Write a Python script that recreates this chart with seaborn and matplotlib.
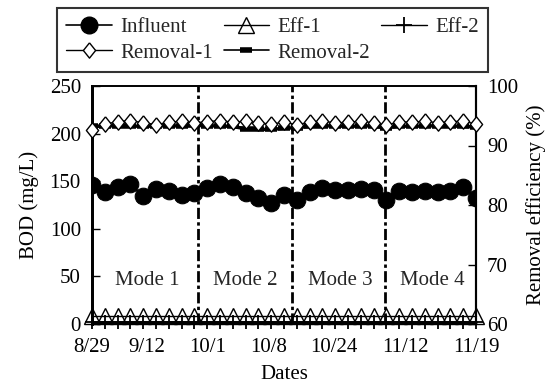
import matplotlib
matplotlib.use("Agg")
import matplotlib.pyplot as plt
import pandas as pd
import seaborn as sns

sns.set_theme(style="white")
plt.rcParams['font.family'] = ['Liberation Serif', 'DejaVu Serif']

# ---------------- data ----------------
sample_idx = list(range(31))
influent = [146, 139, 144, 147, 134, 142, 140, 135, 138, 143, 147, 144, 138, 132, 127, 135,
            130, 139, 143, 141, 141, 142, 141, 130, 140, 139, 140, 139, 140, 144, 132]
eff1 = [8, 8, 8, 8, 8, 8, 8, 8, 8, 8, 8, 8, 8, 8, 8, 8,
        8, 8, 8, 8, 8, 8, 8, 8, 8, 8, 8, 8, 8, 8, 8]
eff2 = [2, 2, 2, 2, 2, 2, 2, 2, 2, 2, 2, 2, 2, 2, 2, 2,
        2, 2, 2, 2, 2, 2, 2, 2, 2, 2, 2, 2, 2, 2, 2]
removal1 = [92.6, 93.6, 94.0, 94.2, 93.8, 93.5, 93.9, 94.1, 93.8, 94.0, 94.2, 93.9, 94.1, 93.8, 93.6, 93.9,
            93.5, 93.9, 94.1, 93.8, 93.9, 94.1, 93.8, 93.4, 94.0, 93.9, 94.1, 93.8, 94.0, 94.1, 93.6]
removal2 = [93.2, 93.3, 93.3, 93.3, 93.2, 93.3, 93.3, 93.3, 93.4, 93.3, 93.3, 93.2, 92.8, 92.7, 92.7, 92.9,
            93.0, 93.2, 93.3, 93.3, 93.2, 93.3, 93.3, 92.9, 93.3, 93.2, 93.3, 93.3, 93.3, 93.2, 93.1]

date_tick_pos = [0, 4.3, 9.0, 13.8, 18.9, 24.5, 30]
date_tick_labels = ['8/29', '9/12', '10/1', '10/8', '10/24', '11/12', '11/19']
mode_bounds = [8.3, 15.6, 22.9]
mode_labels = ['Mode 1', 'Mode 2', 'Mode 3', 'Mode 4']
mode_label_x = [4.3, 12.0, 19.4, 26.6]
mode_label_y = 46

df = pd.DataFrame({'idx': sample_idx, 'Influent': influent, 'Eff-1': eff1, 'Eff-2': eff2,
                   'Removal-1': removal1, 'Removal-2': removal2})

# ---------------- figure ----------------
fig = plt.figure(figsize=(5.47, 3.84), dpi=100)
ax = fig.add_axes([92 / 547, 60 / 384, 384 / 547, 238 / 384])
ax2 = ax.twinx()

FS = 15
diamond = [(0, 1), (0.8, 0), (0, -1), (-0.8, 0), (0, 1)]

sns.lineplot(data=df, x='idx', y='Influent', ax=ax, color='black', lw=1.2, marker='o',
             markersize=12, markeredgecolor='black', markerfacecolor='black', legend=False, zorder=3)
sns.lineplot(data=df, x='idx', y='Eff-1', ax=ax, color='black', lw=1.0, marker='^',
             markersize=11.5, markeredgecolor='black', markerfacecolor='none', markeredgewidth=1.0,
             legend=False, zorder=3, clip_on=False)
sns.lineplot(data=df, x='idx', y='Eff-2', ax=ax, color='black', lw=2.0, marker='+',
             markersize=10, markeredgecolor='black', markeredgewidth=1.3, legend=False, zorder=3,
             clip_on=False)

sns.lineplot(data=df, x='idx', y='Removal-2', ax=ax2, color='black', lw=2.5, marker='_',
             markersize=9, markeredgecolor='black', markeredgewidth=4, legend=False, zorder=3)
sns.lineplot(data=df, x='idx', y='Removal-1', ax=ax2, color='black', lw=1.0, marker=diamond,
             markersize=11, markeredgecolor='black', markerfacecolor='white', markeredgewidth=1.0,
             legend=False, zorder=4, clip_on=False)

for xb in mode_bounds:
    ax.axvline(xb, color='black', lw=2.0, linestyle=(0, (4, 1.2, 1.2, 1.2)), zorder=2)
for lx, lab in zip(mode_label_x, mode_labels):
    ax.text(lx, mode_label_y, lab, ha='center', va='center', fontsize=FS)

ax.set_xlim(0, 30)
ax.set_ylim(0, 250)
ax.set_yticks([0, 50, 100, 150, 200, 250])
ax2.set_ylim(60, 100)
ax2.set_yticks([60, 70, 80, 90, 100])

ax.set_xticks(date_tick_pos)
ax.set_xticklabels(date_tick_labels)
ax.tick_params(axis='x', length=0, pad=10, labelsize=FS, colors='black')
ax.tick_params(axis='y', direction='in', length=6, width=1.0, left=True, pad=8, labelsize=FS,
               colors='black')
ax2.tick_params(axis='y', direction='in', length=6, width=1.0, right=True, pad=8, labelsize=FS,
                colors='black')

ax.set_xlabel('Dates', fontsize=FS, color='black', labelpad=6)
ax.set_ylabel('BOD (mg/L)', fontsize=FS, color='black', labelpad=8)
ax2.set_ylabel('Removal efficiency (%)', fontsize=FS, color='black', labelpad=6)

for a in (ax, ax2):
    for s in a.spines.values():
        s.set_color('black')
        s.set_linewidth(1.2)
    a.spines['left'].set_linewidth(2.0)
    a.spines['right'].set_linewidth(1.5)

handles = [
    plt.Line2D([], [], color='black', lw=1.2, marker='o', ms=12, mfc='black', mec='black'),
    plt.Line2D([], [], color='black', lw=1.0, marker=diamond, ms=11, mfc='white', mec='black'),
    plt.Line2D([], [], color='black', lw=1.0, marker='^', ms=11.5, mfc='none', mec='black'),
    plt.Line2D([], [], color='black', lw=1.2, marker='_', ms=9, mew=4, mec='black'),
    plt.Line2D([], [], color='black', lw=1.0, marker='+', ms=12, mew=1.3, mec='black'),
]
labels = ['Influent', 'Removal-1', 'Eff-1', 'Removal-2', 'Eff-2']
leg = fig.legend(handles, labels, ncol=3, loc='upper left',
                 bbox_to_anchor=(57 / 547, 1 - 8 / 384),
                 fontsize=FS, frameon=True, fancybox=False, borderpad=0.45,
                 handlelength=2.2, handletextpad=0.4, columnspacing=0.5, labelspacing=0.3,
                 borderaxespad=0)
leg.get_frame().set_edgecolor('black')
leg.get_frame().set_linewidth(1.5)

fig.savefig('out.png', dpi=100)
